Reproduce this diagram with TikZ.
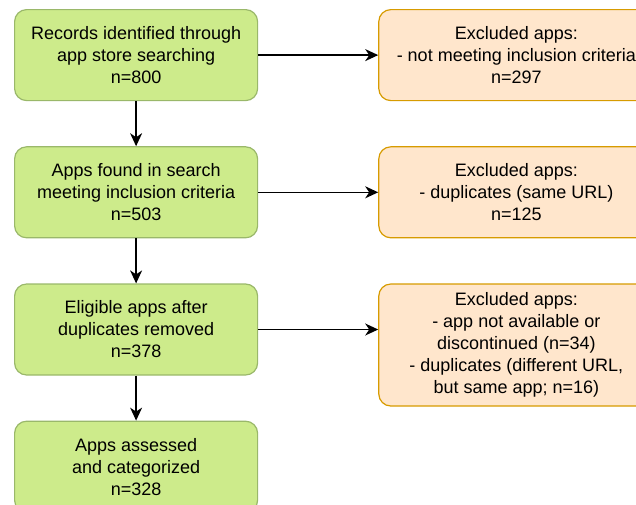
\documentclass[tikz,border=0pt]{standalone}
\usepackage{fontspec}
\setmainfont{Liberation Sans}
\usetikzlibrary{shapes, arrows.meta, positioning}

\definecolor{keepfill}{HTML}{CDEB8B}
\definecolor{keepline}{HTML}{9AB86A}
\definecolor{dropfill}{HTML}{FFE6CC}
\definecolor{dropline}{HTML}{D79B00}

\begin{document}
\begin{tikzpicture}[
      x=1pt, y=-1pt,
      font=\fontsize{18}{22}\selectfont,
      node distance=45pt,
      keep/.style={rectangle, draw=keepline, fill=keepfill, line width=1.2pt, rounded corners=12pt, align=center, minimum width=243pt, minimum height=91pt},
      drop/.style={rectangle, draw=dropline, fill=dropfill, line width=1.2pt, rounded corners=12pt, align=center, minimum width=275pt, minimum height=91pt},
      arrow/.style={line width=1.3pt, -{Stealth[length=13pt, width=12pt, inset=4pt]}}
    ]
      \clip (0,0) rectangle (636,504);
      \node (records) [keep, anchor=north west] at (14,9) {Records identified through\\app store searching\\n=800};
      \node (found) [keep, below=of records] {Apps found in search\\meeting inclusion criteria\\n=503};
      \node (eligible) [keep, below=of found] {Eligible apps after\\duplicates removed\\n=378};
      \node (assessed) [keep, below=of eligible] {Apps assessed\\and categorized\\n=328};

      \node (excl1) [drop, right=120pt of records] {Excluded apps:\\- not meeting inclusion criteria\\n=297};
      \node (excl2) [drop, right=120pt of found] {Excluded apps:\\- duplicates (same URL)\\n=125};
      \node (excl3) [drop, minimum height=122pt, anchor=north west] at ([xshift=120pt]eligible.north east) {Excluded apps:\\- app not available or\\discontinued (n=34)\\- duplicates (different URL,\\but same app; n=16)};

      \draw [arrow] (records) -- (found);
      \draw [arrow] (found) -- (eligible);
      \draw [arrow] (eligible) -- (assessed);
      \draw [arrow] (records) -- (excl1);
      \draw [arrow] (found) -- (excl2);
      \draw [arrow] (eligible.east) -- (eligible.east -| excl3.west);
    \end{tikzpicture}
\end{document}
